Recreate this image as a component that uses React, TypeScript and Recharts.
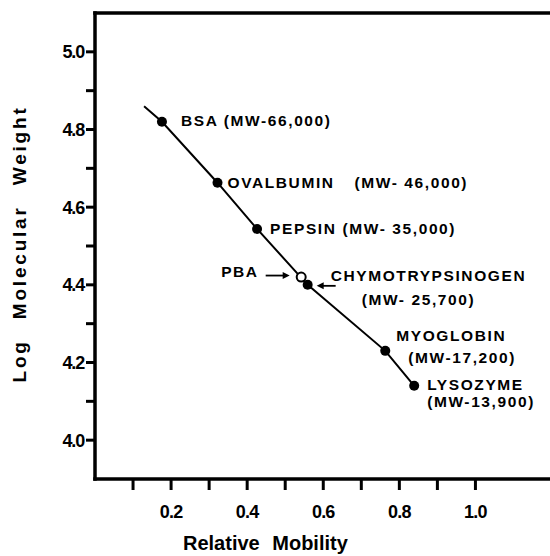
import { ComposedChart, LabelList, Line, ReferenceLine, Scatter, XAxis, YAxis } from 'recharts'

// SDS-PAGE calibration standards
const standardNames = ['BSA', 'OVALBUMIN', 'PEPSIN', 'CHYMOTRYPSINOGEN', 'MYOGLOBIN', 'LYSOZYME']
const standardMW = ['(MW-66,000)', '(MW- 46,000)', '(MW- 35,000)', '(MW- 25,700)', '(MW-17,200)', '(MW-13,900)']
const standardMobility = [0.176, 0.322, 0.426, 0.559, 0.763, 0.839]
const standardLogMW = [4.82, 4.663, 4.544, 4.4, 4.23, 4.14]

// the drawn line starts a little above BSA
const lineStartMobility = 0.129
const lineStartLogMW = 4.86

// unknown sample
const pbaMobility = [0.542]
const pbaLogMW = [4.42]

const xTicks = [0.1, 0.2, 0.3, 0.4, 0.5, 0.6, 0.7, 0.8, 0.9, 1.0]
const yTicks = [4.0, 4.1, 4.2, 4.3, 4.4, 4.5, 4.6, 4.7, 4.8, 4.9, 5.0]
const xDomain = [0, 1.38]
const yDomain = [3.9, 5.1]

const FONT = '"Liberation Sans", Arial, sans-serif'
const INK = '#000'

// where each standard's text sits relative to its point
const labelPlacement = [
  { single: true, dx: 19, dy: -1 },
  { dx: 10, dy: 0, mwDx: 137, mwDy: 0 },
  { single: true, dx: 13, dy: 0 },
  { dx: 23, dy: -9, mwDx: 54, mwDy: 15, arrow: true },
  { dx: 11, dy: -15, mwDx: 23, mwDy: 7 },
  { dx: 13, dy: -1, mwDx: 13, mwDy: 16 },
]

const lineData = [{ mobility: lineStartMobility, logMW: lineStartLogMW }].concat(
  standardMobility.map((m, i) => ({ mobility: m, logMW: standardLogMW[i] }))
)
const pbaData = pbaMobility.map((m, i) => ({ mobility: m, logMW: pbaLogMW[i] }))

const isMinor = (v: number) => Math.round(v * 10) % 2 === 1

const textStyle = { fontFamily: FONT, fontWeight: 700, fill: INK }

const XTick = ({ x, y, payload }: any) => {
  if (isMinor(payload.value)) return <g />
  return (
    <text x={x} y={y + 28} textAnchor="middle" fontSize={18} letterSpacing={-0.8} {...textStyle}>
      {payload.value.toFixed(1)}
    </text>
  )
}

const YTick = ({ x, y, payload }: any) => {
  if (isMinor(payload.value)) return <g />
  return (
    <text x={x} y={y + 6.5} textAnchor="end" fontSize={18} letterSpacing={-1.2} {...textStyle}>
      {payload.value.toFixed(1)}
    </text>
  )
}

const Dot = ({ cx, cy, index }: any) => {
  if (index === 0) return <g key={index} />
  return <circle key={index} cx={cx} cy={cy} r={5} fill={INK} />
}

const OpenDot = ({ cx, cy }: any) => (
  <circle cx={cx} cy={cy} r={4.5} fill="#fff" stroke={INK} strokeWidth={2} />
)

const Arrow = ({ x1, x2, y }: { x1: number; x2: number; y: number }) => {
  const dir = x2 > x1 ? 1 : -1
  return (
    <g>
      <line x1={x1} y1={y} x2={x2 - dir * 5} y2={y} stroke={INK} strokeWidth={1.8} />
      <polygon points={`${x2},${y} ${x2 - dir * 7},${y - 3.5} ${x2 - dir * 7},${y + 3.5}`} fill={INK} />
    </g>
  )
}

const labelText = { fontSize: 15.5, letterSpacing: 1.6, ...textStyle }

const StandardLabel = (props: any) => {
  const i = props.index - 1
  if (i < 0) return null
  const px = props.viewBox?.x ?? props.x
  const py = props.viewBox?.y ?? props.y
  const p: any = labelPlacement[i]
  if (p.single) {
    return (
      <text x={px + p.dx} y={py + p.dy} dominantBaseline="central" {...labelText}>
        {standardNames[i]} {standardMW[i]}
      </text>
    )
  }
  return (
    <g>
      <text x={px + p.dx} y={py + p.dy} dominantBaseline="central" {...labelText}>
        {standardNames[i]}
      </text>
      <text x={px + p.mwDx} y={py + p.mwDy} dominantBaseline="central" {...labelText}>
        {standardMW[i]}
      </text>
      {p.arrow && <Arrow x1={px + 28} x2={px + 9} y={py + 1} />}
    </g>
  )
}

const PbaLabel = (props: any) => {
  const px = props.viewBox?.x ?? props.x
  const py = props.viewBox?.y ?? props.y
  return (
    <g>
      <text x={px - 38} y={py - 1} textAnchor="end" dominantBaseline="central" {...labelText}>
        PBA
      </text>
      <Arrow x1={px - 31} x2={px - 7} y={py + 3} />
    </g>
  )
}

const YTitle = (props: any) => {
  const vb = props.viewBox
  const cx = vb.x + 19
  const cy = vb.y + vb.height / 2 - 2
  return (
    <text
      x={cx}
      y={cy}
      transform={`rotate(-90, ${cx}, ${cy})`}
      textAnchor="middle"
      dominantBaseline="central"
      fontSize={19}
      letterSpacing={2.8}
      wordSpacing={12}
      {...textStyle}
    >
      Log Molecular Weight
    </text>
  )
}

const XTitle = (props: any) => {
  const vb = props.viewBox
  return (
    <text x={vb.x + 88} y={vb.y + 71} fontSize={20} letterSpacing={0} wordSpacing={7} {...textStyle}>
      Relative Mobility
    </text>
  )
}

// thick frame drawn along the plot edges
const FrameLine = (props: any) => {
  const { x1, y1, x2, y2 } = props
  return <line x1={x1} y1={y1} x2={x2} y2={y2} stroke={INK} strokeWidth={3.5} strokeLinecap="square" />
}

export default function App() {
  return (
    <div style={{ position: 'fixed', left: 0, top: 0, width: 550, height: 556, overflow: 'hidden', background: '#fff' }}>
      <ComposedChart width={620} height={556} margin={{ top: 13, right: 0, bottom: 0, left: 0 }}>
        <XAxis
          type="number"
          dataKey="mobility"
          domain={xDomain}
          ticks={xTicks}
          allowDataOverflow
          height={77}
          tickSize={11}
          tickMargin={0}
          tick={<XTick />}
          axisLine={false}
          tickLine={{ stroke: INK, strokeWidth: 3, strokeOpacity: 1 }}
          label={(p: any) => <XTitle {...p} />}
        />
        <YAxis
          type="number"
          dataKey="logMW"
          domain={yDomain}
          ticks={yTicks}
          allowDataOverflow
          width={95}
          tickSize={9}
          tickMargin={2}
          tick={<YTick />}
          axisLine={false}
          tickLine={{ stroke: INK, strokeWidth: 3, strokeOpacity: 1 }}
          label={(p: any) => <YTitle {...p} />}
        />
        <ReferenceLine x={xDomain[0]} ifOverflow="visible" shape={<FrameLine />} />
        <ReferenceLine y={yDomain[0]} ifOverflow="visible" shape={<FrameLine />} />
        <ReferenceLine y={yDomain[1]} ifOverflow="visible" shape={<FrameLine />} />
        <Line
          data={lineData}
          dataKey="logMW"
          type="linear"
          stroke={INK}
          strokeWidth={2}
          dot={<Dot />}
          activeDot={false}
          isAnimationActive={false}
        >
          <LabelList dataKey="logMW" content={<StandardLabel />} />
        </Line>
        <Scatter data={pbaData} dataKey="logMW" shape={<OpenDot />} isAnimationActive={false}>
          <LabelList dataKey="logMW" content={<PbaLabel />} />
        </Scatter>
      </ComposedChart>
    </div>
  )
}
